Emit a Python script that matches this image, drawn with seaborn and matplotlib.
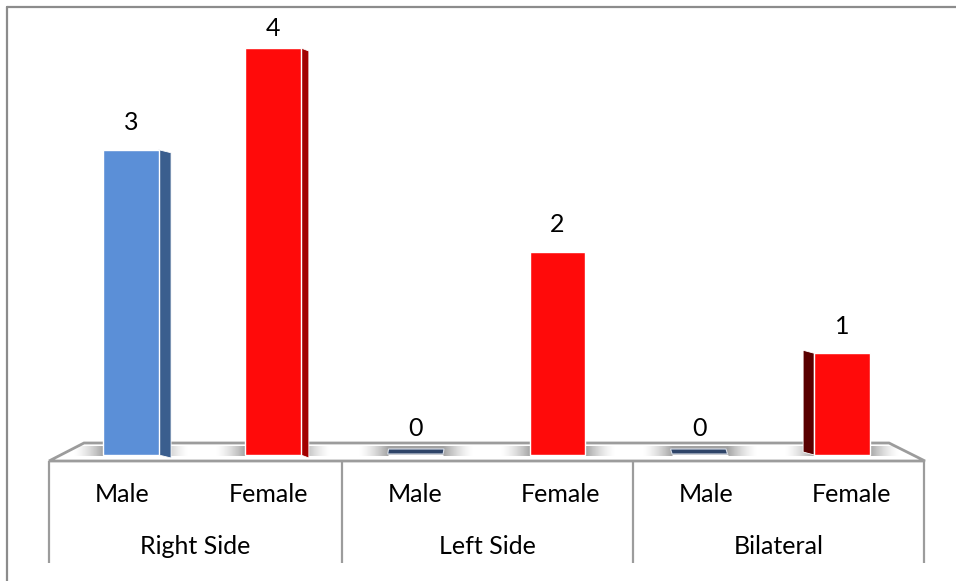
import numpy as np
import pandas as pd
import matplotlib
matplotlib.use("Agg")
import matplotlib.pyplot as plt
from matplotlib.patches import Polygon
import seaborn as sns

# ---- data ----
groups = ["Right Side", "Right Side", "Left Side", "Left Side", "Bilateral", "Bilateral"]
sexes = ["Male", "Female", "Male", "Female", "Male", "Female"]
counts = [3, 4, 0, 2, 0, 1]
group_labels = ["Right Side", "Left Side", "Bilateral"]

slots = [f"{g}|{s}" for g, s in zip(groups, sexes)]
df = pd.DataFrame({"slot": slots, "sex": sexes, "count": counts})

W, H = 956, 581
sns.set_theme(style="white")
plt.rcParams["font.family"] = ["Lato", "DejaVu Sans"]

fig = plt.figure(figsize=(W / 100, H / 100), dpi=100)
ax = fig.add_axes([0, 0, 1, 1])

# pixel <-> data layout helpers
X0, DX = 131.0, 142.2      # pixel of first bar centre, pixels per category step
Y0, DY = 455.0, 101.75     # pixel of value 0, pixels per unit


def px(x):
    return (x - X0) / DX


def py(y):
    return (Y0 - y) / DY


face = {"Male": "#5B8FD7", "Female": "#FF0A0A"}
side = {"Male": "#3A5E8E", "Female": "#A30000"}
side_left_dark = "#5A0000"

sns.barplot(data=df, x="slot", y="count", hue="sex", order=slots,
            hue_order=["Male", "Female"], palette=face, dodge=False,
            width=0.39, saturation=1, edgecolor="white", linewidth=1.0,
            legend=False, ax=ax, zorder=4)

ax.set_xlim(px(0), px(W))
ax.set_ylim(py(H), py(0))
ax.axis("off")

grey = "#9C9C9C"
# floor
floor = Polygon([(px(49), py(461)), (px(84), py(443)), (px(889), py(443)),
                 (px(925), py(461))], closed=True, facecolor="white",
                edgecolor=grey, linewidth=2, zorder=1)
ax.add_patch(floor)
# category table
col_edges = [px(49), px(342), px(633), px(924)]
for xd in col_edges:
    ax.plot([xd, xd], [py(461), py(563)], color=grey, lw=1.6, zorder=1,
            solid_capstyle="butt")

# figure border (cropped at right/bottom)
ax.plot([px(7), px(W)], [py(7), py(7)], color="#8C8C8C", lw=1.6, zorder=1)
ax.plot([px(7), px(7)], [py(7), py(H)], color="#8C8C8C", lw=1.6, zorder=1)

# bars: side faces, shadows, zero markers, value labels
bars = [p for p in ax.patches if isinstance(p, matplotlib.patches.Rectangle)]
centre = 2.8
k = 0.031
for p in bars:
    xc = p.get_x() + p.get_width() / 2
    i = int(round(xc))
    if i < 0 or i >= len(counts):
        continue
    v = counts[i]
    s = sexes[i]
    xl, xr = p.get_x(), p.get_x() + p.get_width()
    d = -(i - centre) * k
    if d < 0:
        d *= 1.15
    slant = 3 / DY

    # floor shadow
    sw = 30 / DX
    xs = np.linspace(xl - sw, xr + sw, 200)
    dist = np.maximum(np.maximum(xl - xs, xs - xr), 0)
    alpha = 0.65 * np.clip(1 - dist / sw, 0, 1) ** 1.5
    img = np.zeros((1, len(xs), 4))
    img[..., :3] = 0.45
    img[0, :, 3] = alpha
    ax.imshow(img, extent=(xl - sw, xr + sw, py(456), py(446)),
              aspect="auto", zorder=2, interpolation="bilinear")

    if v > 0:
        if d > 0:
            pts = [(xr, v), (xr + d, v - slant), (xr + d, 0 - slant), (xr, 0)]
            col = side[s]
        else:
            pts = [(xl, v), (xl + d, v + slant), (xl + d, 0 + slant), (xl, 0)]
            col = side_left_dark
        if abs(d) * DX > 1.5:
            ax.add_patch(Polygon(pts, closed=True, facecolor=col,
                                 edgecolor="white", linewidth=0.6, zorder=3))
    else:
        sh = 0.25 * d
        pts = [(xl + sh, py(449)), (xr + sh, py(449)), (xr, py(454)), (xl, py(454))]
        ax.add_patch(Polygon(pts, closed=True, facecolor="#2E4468",
                             edgecolor="#D8DEE8", linewidth=0.8, zorder=4))

    # value label: 27 px above the bar, but kept inside the plot area
    ly = min(v + 27 / DY, py(28))
    ax.text(xc, ly, f"{v}", ha="center", va="center", fontsize=18,
            color="black", zorder=6)

# category labels at quarter points of each table column
for i, s in enumerate(sexes):
    j = i // 2
    a, b = col_edges[j], col_edges[j + 1]
    xl = a + (b - a) * (0.25 if s == "Male" else 0.75)
    ax.text(xl, py(495), s, ha="center", va="center", fontsize=18,
            color="black")
for j, g in enumerate(group_labels):
    ax.text((col_edges[j] + col_edges[j + 1]) / 2, py(546), g, ha="center",
            va="center", fontsize=18, color="black")

fig.savefig("out.png", dpi=100)
